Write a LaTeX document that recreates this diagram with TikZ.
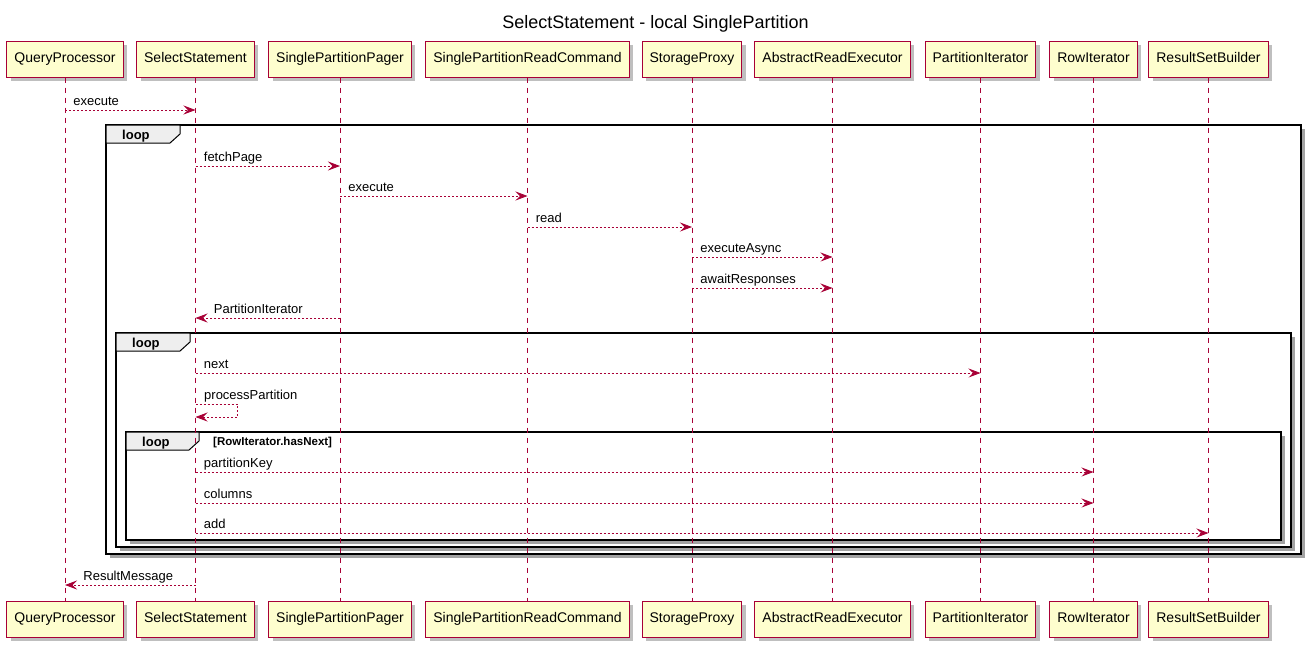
\documentclass[tikz,border=0pt]{standalone}
\usepackage{fontspec}
\setmainfont{Liberation Sans}
\usetikzlibrary{arrows.meta,shadows}
\definecolor{plborder}{HTML}{A80036}
\definecolor{plfill}{HTML}{FEFECE}
\definecolor{pltab}{HTML}{EEEEEE}
\tikzset{
  part/.style={draw=plborder, fill=plfill, line width=1pt, minimum height=36pt,
    inner xsep=7.5pt, inner ysep=0pt, text height=10.5pt, text depth=3pt,
    font=\fontsize{14}{16}\selectfont,
    drop shadow={shadow xshift=4pt, shadow yshift=-4pt, fill=black, opacity=.25}},
  lifeline/.style={draw=plborder, line width=0.8pt, dash pattern=on 5pt off 5pt},
  msg/.style={draw=plborder, line width=0.8pt, dash pattern=on 2pt off 2pt,
    -{Stealth[length=12pt,width=9pt,inset=4.5pt]}},
  mlabel/.style={font=\fontsize{13}{15}\selectfont, anchor=base west, inner sep=0pt},
  frame/.style={draw=black, line width=1.5pt, fill=white,
    drop shadow={shadow xshift=4pt, shadow yshift=-4pt, fill=black!45, opacity=.8}},
  tabbox/.style={draw=black, line width=1pt, fill=pltab},
  looplabel/.style={font=\bfseries\fontsize{13}{15}\selectfont, anchor=base west, inner sep=0pt},
  condlabel/.style={font=\bfseries\fontsize{11.5}{13}\selectfont, anchor=base west, inner sep=0pt},
}
\begin{document}
\begin{tikzpicture}[x=1pt,y=-1pt]
\useasboundingbox (0,0) rectangle (1314,646);
\node[font=\fontsize{18}{20}\selectfont] (title) at (655.5,24) {SelectStatement - local SinglePartition};

% loop frames
\draw[frame] (106,125) rectangle (1301,554);
\draw[tabbox] (106,125) -- (180,125) -- (180,134) -- (170,143) -- (106,143) -- cycle;
\node[looplabel] (loopA) at (122,139.5) {loop};

\draw[frame] (116,333) rectangle (1291,547);
\draw[tabbox] (116,333) -- (190,333) -- (190,342) -- (180,351) -- (116,351) -- cycle;
\node[looplabel] (loopB) at (132,347.5) {loop};

\draw[frame] (126,432) rectangle (1281,540);
\draw[tabbox] (126,432) -- (199,432) -- (199,441) -- (189,450) -- (126,450) -- cycle;
\node[looplabel] (loopC) at (142,446.5) {loop};
\node[condlabel] (cond) at (213,445) {[RowIterator.hasNext]};

% participants
\foreach \n/\x/\t in {qp/65/QueryProcessor, ss/195.5/SelectStatement, spp/340/SinglePartitionPager,
  sprc/527.5/SinglePartitionReadCommand, sp/692/StorageProxy, are/832.5/AbstractReadExecutor,
  pi/980.5/PartitionIterator, ri/1093.5/RowIterator, rsb/1208.5/ResultSetBuilder}{
  \node[part] (\n T) at (\x,59) {\t};
  \node[part] (\n B) at (\x,619) {\t};
  \draw[lifeline] (\n T.south) -- (\n B.north);
}

% messages
\draw[msg] (qpT.south |- 0,110) -- (ssT.south |- 0,110)
  node[mlabel, pos=0, xshift=8pt, yshift=4.5pt] {execute};
\draw[msg] (ssT.south |- 0,166) -- (sppT.south |- 0,166)
  node[mlabel, pos=0, xshift=8pt, yshift=4.5pt] {fetchPage};
\draw[msg] (sppT.south |- 0,196) -- (sprcT.south |- 0,196)
  node[mlabel, pos=0, xshift=8pt, yshift=4.5pt] {execute};
\draw[msg] (sprcT.south |- 0,227) -- (spT.south |- 0,227)
  node[mlabel, pos=0, xshift=8pt, yshift=4.5pt] {read};
\draw[msg] (spT.south |- 0,257) -- (areT.south |- 0,257)
  node[mlabel, pos=0, xshift=8pt, yshift=4.5pt] {executeAsync};
\draw[msg] (spT.south |- 0,288) -- (areT.south |- 0,288)
  node[mlabel, pos=0, xshift=8pt, yshift=4.5pt] {awaitResponses};
\draw[msg] (sppT.south |- 0,318) -- (ssT.south |- 0,318)
  node[mlabel, pos=1, xshift=18pt, yshift=4.5pt] {PartitionIterator};
\draw[msg] (ssT.south |- 0,373) -- (piT.south |- 0,373)
  node[mlabel, pos=0, xshift=8pt, yshift=4.5pt] {next};
\draw[msg] (ssT.south |- 0,404) -- ++(42,0) -- ++(0,13) -- (ssT.south |- 0,417);
\node[mlabel] (ppl) at (204,399.5) {processPartition};
\draw[msg] (ssT.south |- 0,472) -- (riT.south |- 0,472)
  node[mlabel, pos=0, xshift=8pt, yshift=4.5pt] {partitionKey};
\draw[msg] (ssT.south |- 0,503) -- (riT.south |- 0,503)
  node[mlabel, pos=0, xshift=8pt, yshift=4.5pt] {columns};
\draw[msg] (ssT.south |- 0,533) -- (rsbT.south |- 0,533)
  node[mlabel, pos=0, xshift=8pt, yshift=4.5pt] {add};
\draw[msg] (ssT.south |- 0,585) -- (qpT.south |- 0,585)
  node[mlabel, pos=1, xshift=18pt, yshift=4.5pt] {ResultMessage};
\end{tikzpicture}
\end{document}
